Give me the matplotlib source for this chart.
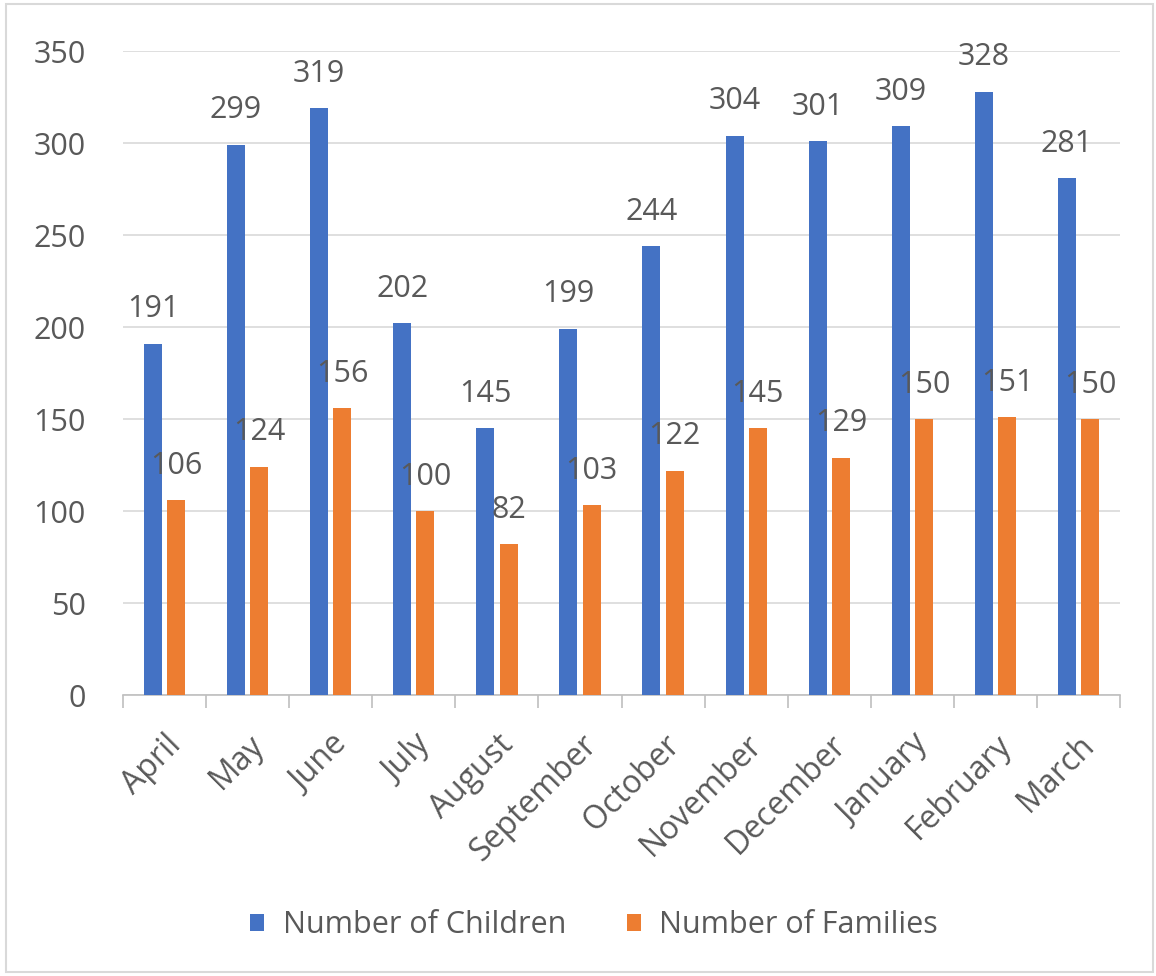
import numpy as np
import matplotlib.pyplot as plt
from matplotlib.patches import Rectangle
from matplotlib.ticker import FixedLocator

months = ["April", "May", "June", "July", "August", "September", "October",
          "November", "December", "January", "February", "March"]
children = [191, 299, 319, 202, 145, 199, 244, 304, 301, 309, 328, 281]
families = [106, 124, 156, 100, 82, 103, 122, 145, 129, 150, 151, 150]

blue = "#4472C4"
orange = "#ED7D31"
text_col = "#595959"
fs = 22

plt.rcParams["font.family"] = ["Open Sans", "DejaVu Sans"]

fig = plt.figure(figsize=(11.56, 9.76), dpi=100)
ax = fig.add_axes([0.1064, 0.2879, 0.8625, 0.6598])

x = np.arange(len(months))
w = 0.217
off = 0.14
b1 = ax.bar(x - off, children, width=w, color=blue, label="Number of Children", zorder=3)
b2 = ax.bar(x + off, families, width=w, color=orange, label="Number of Families", zorder=3)

for bars, vals in ((b1, children), (b2, families)):
    for rect, v in zip(bars, vals):
        ax.annotate(str(v), (rect.get_x() + rect.get_width() / 2, v),
                    xytext=(0, 14), textcoords="offset points",
                    ha="center", va="bottom", fontsize=fs, color=text_col, zorder=4)

ax.set_xlim(-0.5, len(months) - 0.5)
ax.set_ylim(0, 350)
ax.set_yticks(range(0, 351, 50))
ax.yaxis.grid(True, color="#D9D9D9", linewidth=1.2, zorder=0)
ax.tick_params(axis="y", length=0, labelsize=fs, labelcolor=text_col, pad=27)

ax.set_xticks(x)
ax.set_xticklabels(months, rotation=45, ha="right", rotation_mode="anchor")
ax.xaxis.set_minor_locator(FixedLocator(np.arange(-0.5, len(months), 1.0)))
ax.tick_params(axis="x", which="major", length=0, labelsize=fs + 1, labelcolor=text_col, pad=24)
ax.tick_params(axis="x", which="minor", length=9, width=1.2, color="#BFBFBF")

for s in ("top", "right", "left"):
    ax.spines[s].set_visible(False)
ax.spines["bottom"].set_color("#BFBFBF")
ax.spines["bottom"].set_linewidth(1.2)

leg = fig.legend(loc="center", bbox_to_anchor=(0.514, 0.052), ncol=2, frameon=False,
                 fontsize=fs, handlelength=0.45, handleheight=0.45, handletextpad=0.6,
                 columnspacing=2.0)
for t in leg.get_texts():
    t.set_color(text_col)

fig.patches.append(Rectangle((0.005, 0.004), 0.992, 0.992, transform=fig.transFigure,
                             fill=False, edgecolor="#D9D9D9", linewidth=1.5))

fig.savefig("out.png", dpi=100)
